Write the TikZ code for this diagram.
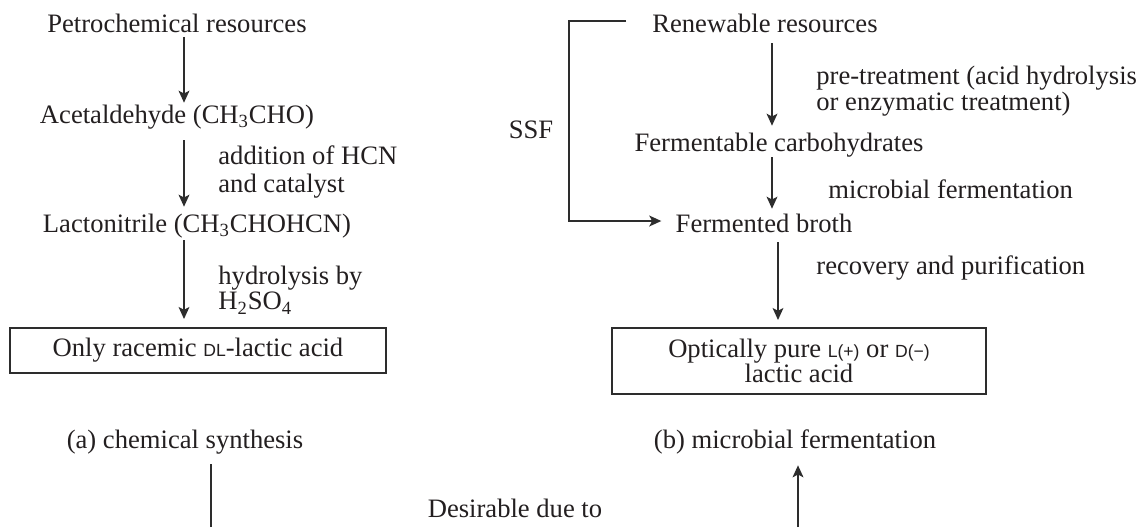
\documentclass[tikz,border=0pt]{standalone}
\usepackage{fontspec}
\setmainfont{Liberation Serif}
\newfontfamily\smallsans{Liberation Sans}
\usetikzlibrary{arrows.meta}
\definecolor{ink}{RGB}{35,31,32}
\definecolor{lin}{RGB}{45,45,45}
\newcommand\smc[1]{{\smallsans\fontsize{8.8}{9}\selectfont #1}}
\begin{document}
\begin{tikzpicture}[x=0.5pt,y=-0.5pt,
  txt/.style={inner sep=0pt, text height=0.72em, text depth=0.22em, text=ink, font=\fontsize{13.3}{12.5}\selectfont},
  lab/.style={inner sep=0pt, anchor=west, align=left, text=ink, font=\fontsize{13.3}{12.8}\selectfont},
  arr/.style={draw=lin, line width=0.8pt, -{Stealth[length=6pt,width=5.4pt,inset=1.4pt]}},
  plain/.style={draw=lin, line width=0.8pt},
  boxed/.style={draw=lin, line width=1pt, inner sep=0pt, align=center, text=ink, font=\fontsize{13.3}{12.2}\selectfont}]
\useasboundingbox (0,0) rectangle (1140,527);
\fill[white] (0,0) rectangle (1140,527);

% left column
\node[txt] (petro) at (177,27) {Petrochemical resources};
\node[txt] (acet) at (177,118) {Acetaldehyde (CH\textsubscript{3}CHO)};
\node[txt] (lacto) at (197,227) {Lactonitrile (CH\textsubscript{3}CHOHCN)};
\node[boxed, minimum width=188pt, minimum height=22.5pt] (racem) at (198,350.5) {Only racemic \smc{DL}-lactic acid};
\node[lab, font=\fontsize{13.3}{14}\selectfont] (hcn) at (218,172) {addition of HCN\\and catalyst};
\node[lab] (hyd) at (218,290) {hydrolysis by\\H\textsubscript{2}SO\textsubscript{4}};

% right column
\node[txt] (renew) at (765,27) {Renewable resources};
\node[txt] (ferm) at (779,146) {Fermentable carbohydrates};
\node[txt] (broth) at (764,227) {Fermented broth};
\node[boxed, minimum width=187pt, minimum height=33pt] (pure) at (799,361) {Optically pure \smc{L(+)} or \smc{D(−)}\\lactic acid};
\node[lab] (pre) at (816,91) {pre-treatment (acid hydrolysis\\or enzymatic treatment)};
\node[lab] (mic) at (828,189) {microbial fermentation};
\node[lab] (rec) at (816,268) {recovery and purification};
\node[txt] (ssf) at (531,133) {SSF};

% bottom
\node[txt] (capa) at (185,443) {(a) chemical synthesis};
\node[txt] (capb) at (795,443) {(b) microbial fermentation};
\node[txt] (desir) at (515,512) {Desirable due to};

% helper coordinates
\coordinate (lx) at (184,0);
\coordinate (rx1) at (772,0);
\coordinate (rx2) at (778,0);
\coordinate (ssftop) at (626,21);
\coordinate (ssfc1) at (569,21);
\coordinate (ssfc2) at (569,221);
\coordinate (lbot) at (211,527);
\coordinate (rbot) at (798,527);

% arrows
\draw[arr, shorten >=2.75pt] (petro.south -| lx) -- (acet.north -| lx);
\draw[arr, shorten <=6.25pt, shorten >=5.25pt] (acet.south -| lx) -- (lacto.north -| lx);
\draw[arr, shorten <=1.75pt, shorten >=4pt] (lacto.south -| lx) -- (racem.north -| lx);
\draw[arr, shorten <=3.25pt, shorten >=5.25pt] (renew.south -| rx1) -- (ferm.north -| rx1);
\draw[arr, shorten <=0.75pt, shorten >=4.25pt] (ferm.south -| rx1) -- (broth.north -| rx1);
\draw[arr, shorten <=2.75pt, shorten >=3.5pt] (broth.south -| rx2) -- (pure.north -| rx2);
\draw[arr, shorten >=7pt] (ssftop) -- (ssfc1) -- (ssfc2) -- (ssfc2 -| broth.west);
\draw[plain, shorten >=5.75pt] (lbot) -- (lbot |- capa.south);
\draw[arr, shorten >=6.25pt] (rbot) -- (rbot |- capb.south);
\end{tikzpicture}
\end{document}
